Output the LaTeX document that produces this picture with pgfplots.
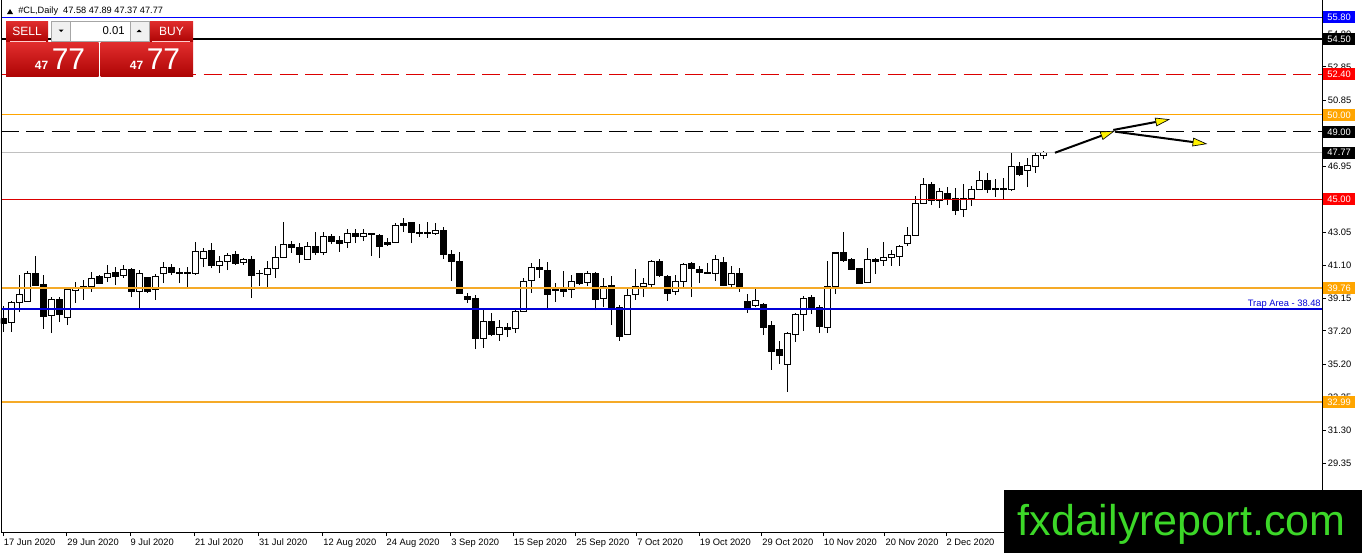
\documentclass[border=0pt]{standalone}
\usepackage{fontspec}
\setmainfont{Liberation Sans}
\usepackage{pgfplots}
\pgfplotsset{compat=1.18}
\usepackage{pgfplotstable}
\usetikzlibrary{arrows.meta}

\definecolor{mtblue}{RGB}{0,0,255}
\definecolor{trapblue}{RGB}{0,0,215}
\definecolor{mtorange}{RGB}{255,165,0}
\definecolor{lnorange}{RGB}{245,170,40}
\definecolor{mtred}{RGB}{220,0,0}
\definecolor{mtgrey}{RGB}{192,192,192}
\definecolor{redtop}{RGB}{225,45,45}
\definecolor{redbot}{RGB}{175,5,5}
\definecolor{wmgreen}{RGB}{60,215,40}

\newcommand\tkfont{\fontsize{7pt}{8pt}\selectfont}
\tikzset{lbl/.style={anchor=west, xshift=0.9pt, text=white, font=\tkfont, inner sep=0pt,
    minimum height=9pt, minimum width=23.5pt, text depth=0pt}}

\pgfplotstableread{
i o h l c
0 37.91 38.68 37.14 37.67
1 37.73 38.98 37.14 38.86
2 38.86 40.52 38.32 39.39
3 38.92 40.75 38.92 40.63
4 40.63 41.64 39.92 39.92
5 39.98 40.52 37.32 38.03
6 38.09 39.21 37.08 39.04
7 39.09 39.21 37.73 38.15
8 37.97 39.81 37.55 39.63
9 39.57 40.10 38.86 39.75
10 39.69 40.22 39.04 39.81
11 39.81 40.69 39.51 40.28
12 40.40 40.52 39.98 40.04
13 40.34 41.11 40.10 40.63
14 40.69 40.99 39.92 40.40
15 40.46 41.11 40.34 40.87
16 40.87 40.93 39.21 39.51
17 39.51 40.81 38.56 40.58
18 40.34 40.40 39.45 39.51
19 39.63 40.58 39.04 40.40
20 40.58 41.29 40.04 40.99
21 40.99 41.17 40.52 40.69
22 40.69 40.93 40.04 40.58
23 40.58 40.99 39.81 40.69
24 40.63 42.47 40.52 41.88
25 41.52 42.12 40.99 41.88
26 41.94 42.41 40.93 41.05
27 41.05 41.64 40.63 41.29
28 41.29 41.82 40.81 41.70
29 41.76 41.94 41.11 41.17
30 41.23 41.52 41.11 41.41
31 41.46 41.64 39.15 40.46
32 40.58 40.81 39.86 40.63
33 40.52 41.35 39.81 40.93
34 40.93 42.23 40.34 41.58
35 41.58 43.66 41.52 42.35
36 42.35 42.53 41.82 42.12
37 42.12 42.41 41.23 41.76
38 41.46 42.47 41.41 42.18
39 42.18 43.06 41.70 41.82
40 41.82 43.06 41.70 42.77
41 42.77 42.95 42.35 42.53
42 42.59 42.83 41.88 42.41
43 42.47 43.24 42.12 43.00
44 43.00 43.24 42.41 42.77
45 42.77 43.24 42.53 43.00
46 42.95 43.00 41.64 42.89
47 42.83 42.95 41.52 42.23
48 42.47 42.71 42.23 42.35
49 42.47 43.60 42.41 43.42
50 43.54 43.89 43.06 43.42
51 43.60 43.60 42.41 43.06
52 43.06 43.54 42.77 43.00
53 43.06 43.66 42.71 42.95
54 43.00 43.60 42.89 43.18
55 43.18 43.36 41.46 41.76
56 41.76 42.00 40.16 41.29
57 41.29 41.88 39.39 39.45
58 39.27 39.45 38.86 39.09
59 39.15 39.33 36.13 36.78
60 36.78 38.50 36.19 37.79
61 37.79 38.27 36.90 37.02
62 37.02 37.85 36.61 37.38
63 37.38 37.67 36.84 37.26
64 37.32 38.50 37.08 38.38
65 38.38 40.34 38.38 40.16
66 40.22 41.23 39.45 40.99
67 40.99 41.46 40.34 40.87
68 40.81 41.29 38.56 39.39
69 39.63 40.04 38.92 39.57
70 39.69 40.75 39.21 39.51
71 39.63 40.52 39.15 40.16
72 40.58 40.63 39.92 40.04
73 40.10 40.75 39.86 40.58
74 40.63 40.69 38.44 39.09
75 39.15 40.34 38.62 39.81
76 39.92 40.46 37.55 38.56
77 38.62 38.74 36.61 36.90
78 37.02 39.69 37.02 39.33
79 39.39 40.87 39.04 39.86
80 39.81 40.34 39.21 40.04
81 39.98 41.41 39.81 41.29
82 41.29 41.46 40.40 40.46
83 40.40 40.52 38.98 39.45
84 39.51 40.52 39.33 40.16
85 40.16 41.23 39.81 41.11
86 41.17 41.29 39.21 40.93
87 40.87 41.05 40.04 40.69
88 40.69 41.23 40.58 40.63
89 40.63 41.70 40.16 41.46
90 41.23 41.58 39.86 39.92
91 39.98 41.05 39.81 40.63
92 40.58 40.93 39.51 39.81
93 38.92 39.39 38.27 38.62
94 38.68 39.69 38.62 38.98
95 38.74 38.86 36.96 37.38
96 37.55 37.79 34.89 36.01
97 36.13 36.61 35.24 35.72
98 35.24 37.14 33.59 37.08
99 37.02 38.27 36.55 38.15
100 38.15 39.27 37.20 39.15
101 39.21 39.33 38.21 38.62
102 38.62 38.74 37.08 37.44
103 37.38 41.35 37.08 39.86
104 39.86 41.82 39.39 41.82
105 41.82 43.06 41.29 41.35
106 41.46 41.52 40.81 40.87
107 40.93 40.93 40.04 40.04
108 40.10 42.12 40.10 41.46
109 41.46 41.52 40.58 41.29
110 41.35 42.47 41.05 41.58
111 41.58 42.00 41.05 41.76
112 41.64 42.29 41.05 42.18
113 42.41 43.36 42.23 42.83
114 42.83 45.20 42.83 44.78
115 44.78 46.26 44.72 45.85
116 45.85 46.03 44.66 44.96
117 44.96 45.67 44.49 45.49
118 45.37 45.73 44.66 45.02
119 45.02 45.67 44.07 44.31
120 44.37 45.91 43.95 45.02
121 45.02 45.79 44.60 45.61
122 45.61 46.68 45.55 46.09
123 46.09 46.56 45.37 45.61
124 45.67 46.20 45.14 45.61
125 45.61 46.26 44.96 45.67
126 45.61 47.74 45.49 46.97
127 46.97 47.21 46.38 46.50
128 46.68 47.45 45.73 47.03
129 46.97 47.80 46.56 47.57
130 47.58 47.89 47.37 47.77
}\candles

\pgfplotsset{mtaxis/.style={
  scale only axis, width=990.75pt, height=398.25pt,
  xmin=-0.29, xmax=164.84, ymin=25.29, ymax=56.75,
  at={(0.75pt,-0.75pt)}, anchor=north west}}

\begin{document}
\begin{tikzpicture}
\useasboundingbox (0,0) rectangle (1021.5pt,-414.75pt);

% wicks
\begin{axis}[mtaxis, hide axis]
\addplot[draw=none, error bars/.cd, y dir=plus, y explicit, error mark=none,
  error bar style={draw=black, solid, line width=0.75pt}]
  table[x=i, y=l, y error expr=\thisrow{h}-\thisrow{l}] {\candles};
\end{axis}

% bodies
\begin{axis}[mtaxis, hide axis, ybar stacked, bar width=0.68]
\addplot[draw=none, fill=none] table[x=i, y expr={min(\thisrow{o},\thisrow{c})}] {\candles};
\addplot[draw=black, fill=white, line width=0.75pt] table[x=i, y expr={max(\thisrow{c}-\thisrow{o},0)}] {\candles};
\addplot[draw=black, fill=black, line width=0.75pt] table[x=i, y expr={max(\thisrow{o}-\thisrow{c},0)}] {\candles};
\end{axis}

% levels, ticks, labels
\begin{axis}[mtaxis, clip=false,
  axis line style={draw=none},
  tick align=outside, major tick length=3pt,
  tick style={black, line width=0.75pt},
  xtick pos=left, ytick pos=right,
  xticklabel pos=left, yticklabel pos=right,
  xtick={0,7.93,15.84,23.88,31.88,39.93,47.84,55.93,63.75,71.55,79.18,87.0,94.8,102.5,110.2,117.84},
  xticklabels={17 Jun 2020,29 Jun 2020,9 Jul 2020,21 Jul 2020,31 Jul 2020,12 Aug 2020,24 Aug 2020,3 Sep 2020,15 Sep 2020,25 Sep 2020,7 Oct 2020,19 Oct 2020,29 Oct 2020,10 Nov 2020,20 Nov 2020,2 Dec 2020},
  ytick={29.35,31.30,33.25,35.20,37.20,39.15,41.10,43.05,45.00,46.95,48.90,50.85,52.85,54.80},
  yticklabels={29.35,31.30,33.25,35.20,37.20,39.15,41.10,43.05,45.00,46.95,48.90,50.85,52.85,54.80},
  xticklabel style={font=\tkfont, anchor=north west, inner sep=0pt, xshift=0.3pt, yshift=-1.8pt},
  yticklabel style={font=\tkfont, anchor=west, inner sep=0pt, xshift=1.2pt}]
\addplot[mtblue, line width=0.75pt] coordinates {(-0.29,55.8) (164.84,55.8)};
\addplot[black, line width=1.5pt] coordinates {(-0.29,54.5) (164.84,54.5)};
\addplot[mtred, line width=0.75pt, dash pattern=on 13.5pt off 5.5pt] coordinates {(-0.29,52.4) (164.84,52.4)};
\addplot[mtorange, line width=0.75pt] coordinates {(-0.29,50.0) (164.84,50.0)};
\addplot[black, line width=0.75pt, dash pattern=on 13.5pt off 5.5pt] coordinates {(-0.29,49.0) (164.84,49.0)};
\addplot[mtgrey, line width=0.75pt] coordinates {(-0.29,47.77) (164.84,47.77)};
\addplot[mtred, line width=0.75pt] coordinates {(-0.29,45.0) (164.84,45.0)};
\addplot[lnorange, line width=1.5pt] coordinates {(-0.29,39.76) (164.84,39.76)};
\addplot[trapblue, line width=1.5pt] coordinates {(-0.29,38.48) (164.84,38.48)};
\addplot[lnorange, line width=1.5pt] coordinates {(-0.29,32.99) (164.84,32.99)};
% arrows
\addplot[black, line width=1.5pt, -{Triangle[length=11pt, width=6.5pt, fill=yellow, line width=0.5pt]}]
  coordinates {(131.46,47.76) (138.96,49.06)};
\addplot[black, line width=1.5pt, -{Triangle[length=11pt, width=6.5pt, fill=yellow, line width=0.5pt]}]
  coordinates {(138.75,49.11) (145.84,49.74)};
\addplot[black, line width=1.5pt, -{Triangle[length=11pt, width=6.5pt, fill=yellow, line width=0.5pt]}]
  coordinates {(138.96,49.01) (150.5,48.28)};
\node[anchor=south east, text=trapblue, font=\tkfont, inner sep=0.8pt] at (axis cs:164.84,38.48) {Trap Area - 38.48};
% right price labels
\node[lbl, fill=mtblue] at (axis cs:164.84,55.8) {55.80};
\node[lbl, fill=black] at (axis cs:164.84,54.5) {54.50};
\node[lbl, fill=red] at (axis cs:164.84,52.4) {52.40};
\node[lbl, fill=mtorange] at (axis cs:164.84,50.0) {50.00};
\node[lbl, fill=black] at (axis cs:164.84,49.0) {49.00};
\node[lbl, fill=black] at (axis cs:164.84,47.77) {47.77};
\node[lbl, fill=red] at (axis cs:164.84,45.0) {45.00};
\node[lbl, fill=mtorange] at (axis cs:164.84,39.76) {39.76};
\node[lbl, fill=mtorange] at (axis cs:164.84,32.99) {32.99};
\end{axis}

\begin{scope}[x=0.75pt, y=-0.75pt]
% frame
\draw[black, line width=0.75pt] (1,0) -- (1,532) -- (1322,532) -- (1322,0);
% title
\fill[black] (7,14) -- (13,14) -- (10,9) -- cycle;
\node[anchor=west, font=\fontsize{6.9pt}{8pt}\selectfont, inner sep=0pt] at (18,11.5) {\#CL,Daily\ \ 47.58 47.89 47.37 47.77};
% trade panel
\shade[top color=redtop, bottom color=redbot] (6,21) rectangle (48,41);
\node[text=white, font=\fontsize{9pt}{10pt}\selectfont] at (27,31) {SELL};
\filldraw[fill=black!6, draw=black!35, line width=0.5pt] (51,21) rectangle (70,41);
\fill[black] (58.5,29.5) -- (63.5,29.5) -- (61,32) -- cycle;
\filldraw[fill=white, draw=black!35, line width=0.5pt] (70,21) rectangle (130,41);
\node[anchor=east, font=\fontsize{8.5pt}{10pt}\selectfont, inner sep=0pt] at (125,31) {0.01};
\filldraw[fill=black!6, draw=black!35, line width=0.5pt] (130,21) rectangle (149,41);
\fill[black] (136.5,32) -- (141.5,32) -- (139,29.5) -- cycle;
\shade[top color=redtop, bottom color=redbot] (150,21) rectangle (193,41);
\node[text=white, font=\fontsize{9pt}{10pt}\selectfont] at (171.5,31) {BUY};
\shade[top color=redtop, bottom color=redbot] (6,42.5) rectangle (98.5,76);
\shade[top color=redtop, bottom color=redbot] (100.5,42.5) rectangle (193,76);
\draw[white!80!red, line width=0.5pt] (10,41.7) -- (46,41.7);
\draw[white!80!red, line width=0.5pt] (152,41.7) -- (190,41.7);
\node[anchor=base east, text=white, font=\bfseries\fontsize{9pt}{10pt}\selectfont, inner sep=0pt] at (48.5,69) {47};
\node[anchor=base west, text=white, font=\fontsize{22.5pt}{24pt}\selectfont, inner sep=0pt] at (51.5,69) {77};
\node[anchor=base east, text=white, font=\bfseries\fontsize{9pt}{10pt}\selectfont, inner sep=0pt] at (143.5,69) {47};
\node[anchor=base west, text=white, font=\fontsize{22.5pt}{24pt}\selectfont, inner sep=0pt] at (146.5,69) {77};
% watermark
\fill[black] (1004,490) rectangle (1362,553);
\node[anchor=base, text=wmgreen, font=\fontsize{32.3pt}{36pt}\selectfont, inner sep=0pt] at (1181.5,535) {fxdailyreport.com};
\end{scope}
\end{tikzpicture}
\end{document}
